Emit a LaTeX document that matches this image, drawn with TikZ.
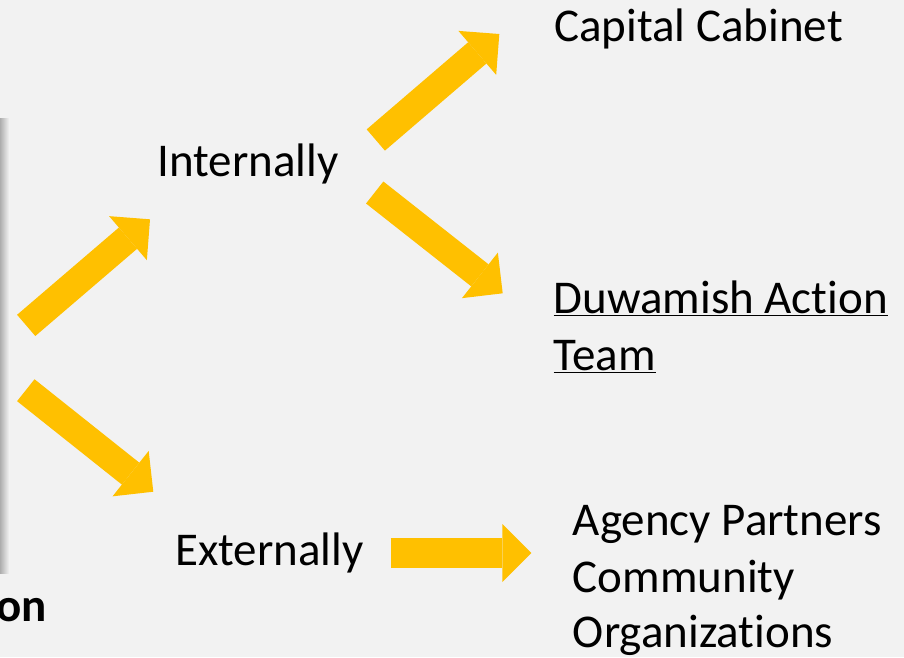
\documentclass[tikz,border=0pt]{standalone}
\usepackage{fontspec}
\setmainfont{Carlito}[Ligatures={NoCommon,NoContextual}]
\usepackage{xcolor}
\usetikzlibrary{arrows.meta}
\definecolor{bggray}{HTML}{F2F2F2}
\definecolor{gold}{HTML}{FFC000}

\begin{document}
\begin{tikzpicture}[x=1pt, y=-1pt,
		txt/.style={anchor=base west, inner sep=0pt, font=\fontsize{47}{57}\selectfont},
		blockarrow/.style={draw=gold, line width=28pt, -{Triangle[length=29pt, width=58pt, line width=0pt]}}]
	\fill[bggray] (0,0) rectangle (904,657);
	\useasboundingbox (0,0) rectangle (904,657);
	% shadow of the cut-off box on the left
	\shade[left color=black!32, right color=bggray] (0,118) rectangle (9,573);
	\node[anchor=base east, inner sep=0pt, font=\fontsize{47}{57}\selectfont\bfseries] (on) at (47,621) {on};
	% texts
	\node[txt] (internally) at (157.3,176.7) {Internally};
	\node[txt] (externally) at (175,565.7) {Externally};
	\node[txt] (cabinet) at (554,41.7) {Capital Cabinet};
	\node[txt] (duwamish) at (553.3,313.3) {\underline{Duwamish Action}};
	\node[txt] (team) at (553.3,370.3) {\underline{Team}};
	\node[txt] (partners) at (572.7,535) {Agency Partners};
	\node[txt] (community) at (572.7,592) {Community};
	\node[txt] (organizations) at (572.7,647) {Organizations};
	% arrow ends
	\coordinate (s1) at (26.2,325.4);   \coordinate (e1) at (150,219.3);
	\coordinate (s2) at (25.8,390.2);   \coordinate (e2) at (153.3,491.7);
	\coordinate (s3) at (375.8,140);    \coordinate (e3) at (499.3,34);
	\coordinate (s4) at (374.7,192.5);  \coordinate (e4) at (502.7,293.3);
	\coordinate (s5) at (390.7,553);    \coordinate (e5) at (531.3,553);
	\draw[blockarrow] (s1) -- (e1);
	\draw[blockarrow] (s2) -- (e2);
	\draw[blockarrow] (s3) -- (e3);
	\draw[blockarrow] (s4) -- (e4);
	\draw[blockarrow, line width=29.4pt] (s5) -- (e5);
\end{tikzpicture}
\end{document}
